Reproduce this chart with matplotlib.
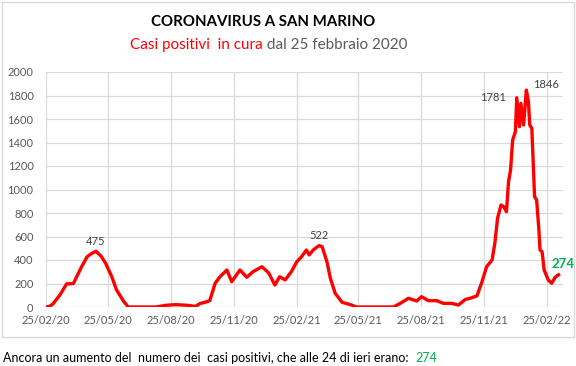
import matplotlib
matplotlib.use('Agg')
import matplotlib.pyplot as plt
import matplotlib.dates as mdates
import numpy as np
import pandas as pd

plt.rcParams['font.family'] = ['Lato', 'DejaVu Sans']

# data (days since 25/02/2020, active cases)
start = pd.Timestamp('2020-02-25')
days = [0, 5, 10, 20, 30, 40, 45, 52, 60, 67, 73, 81, 87, 96, 103, 113, 120,
        160, 176, 190, 205, 212, 218, 225, 232, 239, 247, 254, 264, 271, 283,
        293, 302, 315, 325, 334, 341, 349, 358, 366, 373, 380, 384, 390, 396,
        399, 403, 410, 415, 422, 432, 446, 453, 507, 517, 529, 541, 548, 558,
        570, 580, 592, 602, 612, 619, 629, 636, 643, 651, 655, 659, 664, 668,
        672, 675, 678, 681, 685, 687, 691, 693, 697, 701, 704, 706, 709, 713,
        716, 719, 721, 724, 727, 733, 738, 743, 748]
cases = [0, 5, 25, 100, 196, 200, 260, 343, 428, 457, 475, 428, 372, 258, 145,
         51, 0, 0, 15, 20, 15, 10, 5, 30, 40, 54, 204, 258, 315, 215, 315, 253,
         300, 343, 290, 187, 258, 230, 300, 385, 428, 485, 443, 485, 513, 522,
         513, 385, 244, 117, 40, 17, 0, 0, 31, 74, 51, 88, 54, 54, 31, 31, 17,
         65, 74, 95, 210, 343, 400, 542, 755, 868, 854, 811, 1066, 1166, 1421,
         1492, 1781, 1535, 1733, 1549, 1846, 1748, 1549, 1521, 939, 911, 683,
         485, 471, 315, 230, 202, 253, 274]
dates = start + pd.to_timedelta(days, unit='D')

tick_dates = pd.to_datetime(['2020-02-25', '2020-05-25', '2020-08-25', '2020-11-25',
                             '2021-02-25', '2021-05-25', '2021-08-25', '2021-11-25',
                             '2022-02-25'])

# label: (day, value, dx, dy)
labels = [(73, 475, 0, 7), (399, 522, 0, 7), (687, 1781, -17, 0), (701, 1846, 14, 4)]

fig = plt.figure(figsize=(5.76, 3.66), dpi=100)
ax = fig.add_axes([46/576, 1-307/366, (563-46)/576, (307-72)/366])

ax.plot(dates, cases, color='#FF0000', linewidth=2.4, solid_joinstyle='round')

ax.set_ylim(0, 2000)
ax.set_yticks(np.arange(0, 2001, 200))
ax.set_xlim(start, start + pd.Timedelta(days=754.5))
ax.set_xticks(tick_dates)
ax.xaxis.set_major_formatter(mdates.DateFormatter('%d/%m/%y'))
ax.grid(color='#D9D9D9', linewidth=0.9)
ax.set_axisbelow(True)
for s in ax.spines.values():
    s.set_visible(False)
ax.tick_params(length=0, labelsize=8, labelcolor='#595959')
ax.tick_params(axis='y', pad=9)
ax.tick_params(axis='x', pad=6)

for d, v, dx, dy in labels:
    ax.annotate(str(v), xy=(start + pd.Timedelta(days=d), v), xytext=(dx, dy),
                textcoords='offset points', ha='center', va='center',
                fontsize=8, color='#404040')
ax.annotate(str(cases[-1]), xy=(dates[-1], cases[-1]), xytext=(3.5, 8),
            textcoords='offset points', ha='center', va='center',
            fontsize=9.5, color='#00B050', fontweight='bold', annotation_clip=False)

# titles
fig.text(263/576, 1-22/366, 'CORONAVIRUS A SAN MARINO', ha='center', va='center',
         fontsize=10.8, fontweight='bold', color='black')
fig.text(263/576, 1-45/366, 'Casi positivi  in cura', ha='right', va='center',
         fontsize=11, color='#FF0000')
fig.text(263/576, 1-45/366, ' dal 25 febbraio 2020', ha='left', va='center',
         fontsize=11, color='#595959')

# chart border
fig.patches.append(plt.Rectangle((2/576, 1-337/366), 572/576, 335/366,
                                 transform=fig.transFigure, fill=False,
                                 edgecolor='#D9D9D9', linewidth=1))

note = fig.text(3/576, 1-358/366,
                'Ancora un aumento del  numero dei  casi positivi, che alle 24 di ieri erano:  ',
                ha='left', va='center', fontsize=9, color='black')

fig.canvas.draw()
r = note.get_window_extent()
fig.text(r.x1/576, 1-358/366, str(cases[-1]), ha='left', va='center',
         fontsize=9, color='#00B050')

fig.savefig('out.png', dpi=100)
